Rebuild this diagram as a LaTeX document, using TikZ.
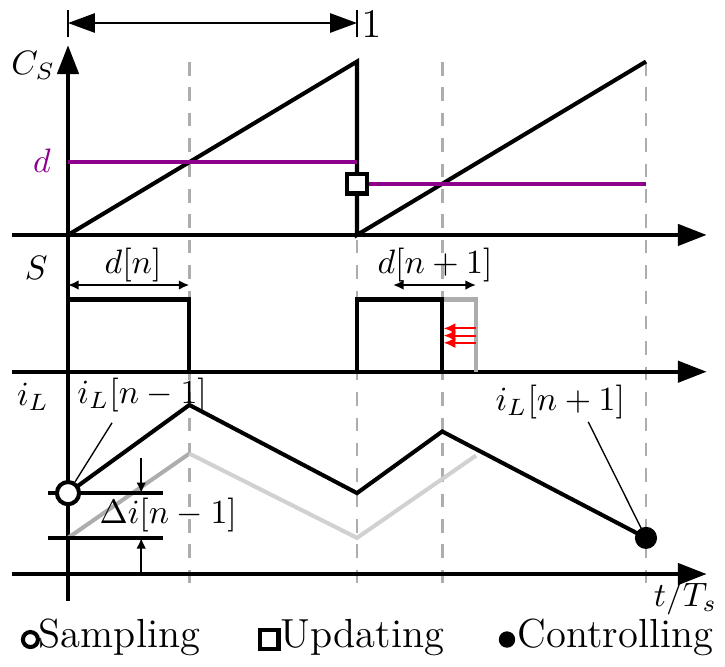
\documentclass[tikz,border=0pt]{standalone}
\usetikzlibrary{arrows.meta,positioning}
\definecolor{dpurple}{RGB}{140,0,140}

\begin{document}
\begin{tikzpicture}[line join=miter,every node/.style={inner sep=1.1pt},
  axis/.style={line width=1.2pt,-{Triangle[length=3mm,width=2.2mm]}},
  wave/.style={line width=1.2pt},
  grid/.style={black!32,line width=0.8pt,dash pattern=on 4pt off 3.5pt},
  span/.style={line width=0.6pt,{Latex[length=1.1mm,width=1mm]}-{Latex[length=1.1mm,width=1mm]}},
  lead/.style={line width=0.4pt},
  legend/.style={font=\large,anchor=base west,inner sep=0pt}]
  \useasboundingbox (-0.706,-0.965) rectangle (6.82,5.959);
  \foreach \x in {1.26,3.0,3.885,6.0} {
    \draw[grid] (\x,5.315) -- (\x,-0.2);
  }
  \draw[axis] (0,-0.28) -- (0,5.49);
  \foreach \y in {0,2.1,3.52} {
    \draw[axis] (-0.58,\y) -- (6.63,\y);
  }
  \draw[line width=0.6pt] (0,5.57) -- (0,5.86);
  \draw[line width=0.6pt] (3,5.57) -- (3,5.86);
  \draw[line width=0.6pt,{Triangle[length=2.8mm,width=2mm]}-{Triangle[length=2.8mm,width=2mm]}] (0,5.72) -- (3,5.72);
  \node[anchor=west,font=\large] (per) at (3.0,5.71) {$1$};
  % carrier and duty
  \draw[wave] (0,3.52) -- (3,5.32) -- (3,3.52) -- (6,5.32);
  \draw[wave,dpurple] (0,4.277) -- (3,4.277);
  \draw[wave,dpurple] (3,4.05) -- (6,4.05);
  \node[draw,fill=white,line width=1.2pt,minimum size=0.2cm,inner sep=0pt] (upd) at (3,4.05) {};
  \node (cs) at (-0.36,5.28) {$C_S$};
  \node[text=dpurple] (dl) at (-0.27,4.29) {$d$};
  % switch signal
  \draw[wave,black!32] (3.885,2.85) -- (4.236,2.85) -- (4.236,2.1);
  \draw[wave] (0,2.1) -- (0,2.85) -- (1.26,2.85) -- (1.26,2.1);
  \draw[wave] (3,2.1) -- (3,2.85) -- (3.885,2.85) -- (3.885,2.1);
  \foreach \y in {2.40,2.475,2.55} {
    \draw[red,line width=0.6pt,-{Latex[length=1.2mm,width=1.1mm]}] (4.236,\y) -- (3.9,\y);
  }
  \draw[span] (0,3.0) -- (1.26,3.0);
  \draw[span] (3.374,3.0) -- (4.236,3.0);
  \node (dn) at (0.675,3.21) {$d[n]$};
  \node (dn1) at (3.81,3.21) {$d[n+1]$};
  \node (sl) at (-0.33,3.18) {$S$};
  % inductor current
  \draw[wave,black!32] (0,0.375) -- (1.26,1.25);
  \draw[wave,black!18] (1.26,1.25) -- (3,0.375) -- (4.236,1.23);
  \draw[wave] (0,0.84) -- (1.26,1.755) -- (3,0.84) -- (3.885,1.48) -- (6,0.375);
  \draw[wave] (-0.21,0.84) -- (0.99,0.84);
  \draw[wave] (-0.21,0.375) -- (0.99,0.375);
  \draw[line width=0.6pt,-{Latex[length=1.1mm,width=1mm]}] (0.76,1.2) -- (0.76,0.84);
  \draw[line width=0.6pt,-{Latex[length=1.1mm,width=1mm]}] (0.76,0) -- (0.76,0.375);
  \node (di) at (1.04,0.61) {$\Delta i[n-1]$};
  \node[circle,draw,fill=white,line width=1.2pt,minimum size=0.23cm,inner sep=0pt] (smp) at (0,0.84) {};
  \node[circle,fill,minimum size=0.23cm,inner sep=0pt] (ctl) at (6,0.375) {};
  \node (ila) at (0.77,1.86) {$i_L[n-1]$};
  \node (ilb) at (5.11,1.79) {$i_L[n+1]$};
  \coordinate (la) at (0.457,1.57);
  \coordinate (lb) at (5.40,1.58);
  \draw[lead] (smp) -- (la);
  \draw[lead] (lb) -- (ctl.center);
  \node (il) at (-0.363,1.84) {$i_L$};
  \node[inner sep=0pt] (tt) at (6.41,-0.25) {$t/T_s$};
  % legend
  \node[circle,draw,line width=1.2pt,minimum size=0.156cm,inner sep=0pt] (ks) at (-0.39,-0.68) {};
  \node[legend] (ts) at (-0.31,-0.758) {Sampling};
  \node[draw,line width=1.2pt,minimum size=0.19cm,inner sep=0pt] (ku) at (2.09,-0.68) {};
  \node[legend] (tu) at (2.2,-0.758) {Updating};
  \node[circle,fill,minimum size=0.17cm,inner sep=0pt] (kc) at (4.557,-0.68) {};
  \node[legend] (tc) at (4.66,-0.758) {Controlling};
\end{tikzpicture}
\end{document}
